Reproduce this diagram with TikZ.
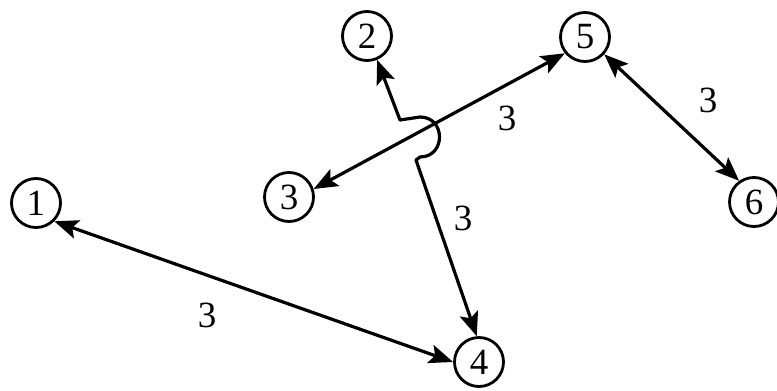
\documentclass[tikz,border=0pt]{standalone}
\usepackage{fontspec}
\setmainfont{Liberation Serif}
\usetikzlibrary{arrows.meta}
\begin{document}
\begin{tikzpicture}[x=1pt,y=-1pt,
  vert/.style={circle,draw,line width=2.8pt,minimum size=49pt,inner sep=0pt,font=\fontsize{37}{37}\selectfont},
  edge/.style={line width=3.2pt,{Stealth[length=24pt,width=19pt,inset=5pt]}-{Stealth[length=24pt,width=19pt,inset=5pt]}},
  wlab/.style={font=\fontsize{37}{37}\selectfont,inner sep=0pt}]
\useasboundingbox (0,0) rectangle (777,391);
\node[vert] (n1) at (36,203) {1};
\node[vert] (n2) at (367,36) {2};
\node[vert] (n3) at (289,197) {3};
\node[vert] (n4) at (479,362) {4};
\node[vert] (n5) at (585,37) {5};
\node[vert] (n6) at (754,202) {6};
\coordinate (j1) at (400,120);
\coordinate (j2) at (420,117);
\coordinate (j3) at (420,157);
\coordinate (j4) at (416,160);
\draw[edge] (n1.-45) -- (n4.180);
\draw[edge] (n3.18) -- (n5.219);
\draw[edge] (n5.-42) -- (n6.125);
\draw[edge,line join=round] (n2.-67) -- (j1) -- (j2) .. controls (446,117) and (446,157) .. (j3) -- (j4) -- (n4.95);
\node[wlab] (l14) at (207,315) {3};
\node[wlab] (l24) at (463,218) {3};
\node[wlab] (l35) at (507,118) {3};
\node[wlab] (l56) at (708,100) {3};
\end{tikzpicture}
\end{document}
